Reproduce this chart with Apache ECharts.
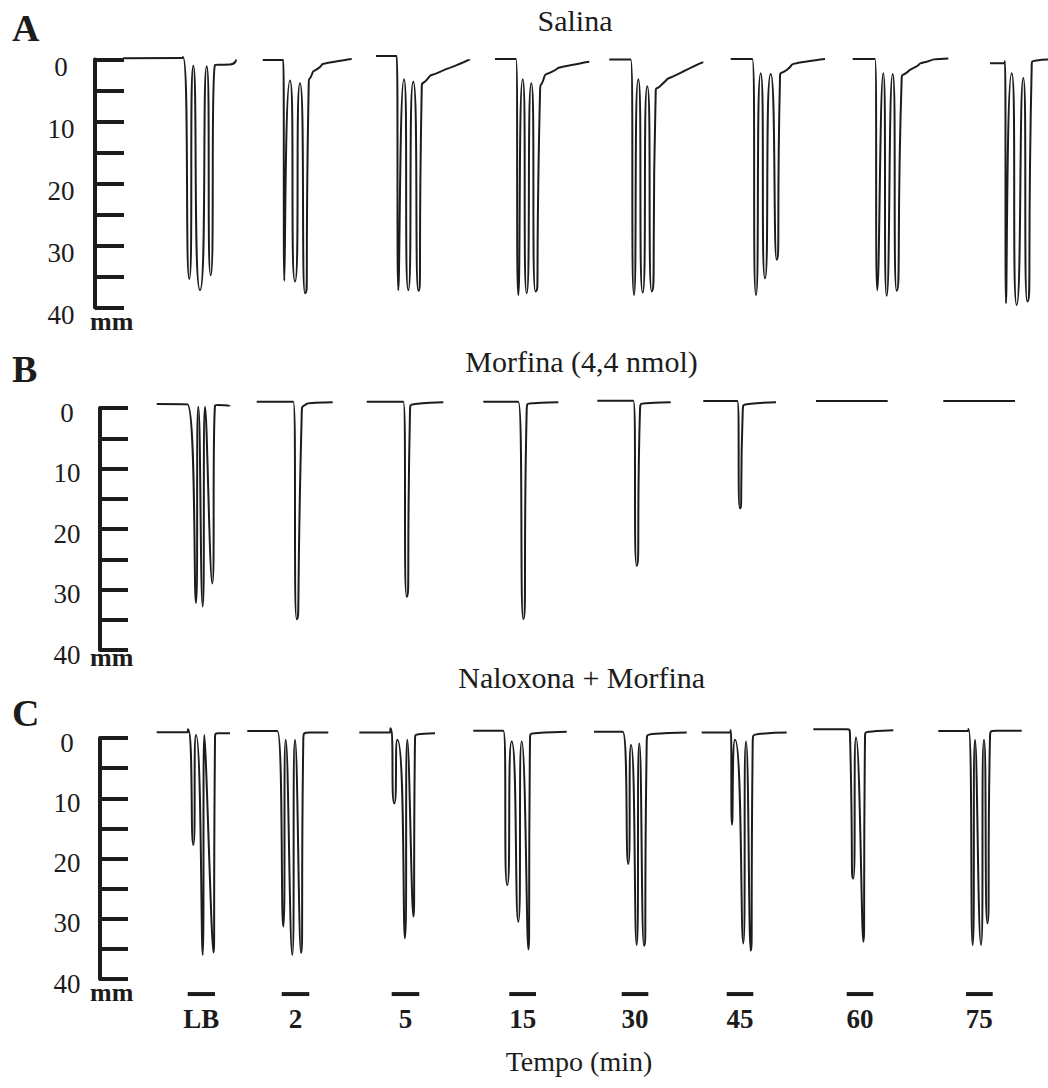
<!DOCTYPE html>
<html>
<head>
<meta charset="utf-8">
<title>Tail flick - Salina / Morfina / Naloxona + Morfina</title>
<script src="https://cdn.jsdelivr.net/npm/echarts@6/dist/echarts.min.js"></script>
<style>
html, body { margin: 0; padding: 0; background: #fff; }
#chart { width: 1048px; height: 1088px; }
</style>
</head>
<body>
<div id="chart"></div>
<script>
var SERIF = '"Liberation Serif","Times New Roman","DejaVu Serif",serif';
var INK = '#1c1c1c';

var panelLetters = ['A', 'B', 'C'];
var panelTitles = ['Salina', 'Morfina (4,4 nmol)', 'Naloxona + Morfina'];
var timeLabels = ['LB', '2', '5', '15', '30', '45', '60', '75'];
var timeBarStart = [87.7, 181.7, 291.7, 409.3, 521.7, 626.7, 746.7, 866];
var timeBarEnd = [115, 209.3, 319.3, 436, 548.3, 653.3, 773.3, 892.7];

// deflection records, [t, mm], one array per time point
var salina = [
	[[23,-0.2],[82,-0.25],[83,-0.4],[89.3,35.4],[93.3,1.0],[100,37.2],[106.7,1.1],[110.7,34.8],[115,0.9],[130,0.8],[136,0]],
	[[162.7,0.1],[183.3,0.1],[184.3,35.7],[190,3.4],[195,35.8],[200,3.85],[205,37.7],[208.7,4.1],[211.7,2.5],[216.7,1.6],[230,0.5],[251.7,-0.1]],
	[[276,-0.55],[296.7,-0.55],[298.3,37.2],[304,3.2],[308.3,37.2],[313.3,3.6],[318.3,37.3],[321.7,4.9],[326.7,3.3],[340,2.0],[356.7,0.9],[370,0]],
	[[395,-0.1],[416,-0.1],[418.3,38.0],[422.7,3.2],[426.7,37.7],[431.3,3.85],[435.5,37.4],[440,5.5],[443.3,3.3],[451.7,2.0],[466.7,1.05],[489.3,0.35]],
	[[509.3,0],[530.7,0],[534,38.0],[538.3,3.2],[542.7,37.6],[547.3,4.3],[551.7,37.4],[555.7,5.2],[560,4.3],[580,2.2],[603.3,0.45]],
	[[630.7,-0.1],[652.3,-0.1],[656,38.0],[660.7,2.2],[665,35.3],[670.7,2.35],[676.7,32.3],[680,3.0],[686.7,1.7],[700,0.5],[725,-0.1]],
	[[752.7,-0.1],[775,-0.1],[777.3,37.2],[783.3,2.2],[786.7,38.1],[792.7,2.35],[796.7,37.3],[801.7,2.9],[806,2.2],[813.3,1.4],[826.7,0.35],[840,-0.1],[848.3,-0.15]],
	[[890,0.6],[904,0.6],[905,0.3],[906,39.3],[911.7,2.2],[916.7,39.6],[923.3,3.0],[927.3,39.05],[931.7,1.05],[935,0.2],[948,0]]
];
var morfina = [
	[[56.7,-0.65],[87.5,-0.6],[96,32.2],[98.3,-0.2],[102.7,32.8],[105,-0.2],[112.3,29.0],[115,-0.4],[118,-0.5],[130,-0.3]],
	[[156.7,-1.05],[193.3,-1.05],[196.7,34.9],[201.7,1.15],[205,-0.5],[215,-0.85],[232.7,-0.95]],
	[[266.7,-1.05],[303.3,-1.05],[306.7,31.2],[310,0.6],[315,-0.65],[343.3,-0.95]],
	[[383.3,-1.05],[418.3,-1.05],[423.3,34.9],[426.7,0.3],[433.3,-0.8],[458.3,-0.95]],
	[[497.3,-1.2],[533.3,-1.2],[536.7,26.1],[540,0.3],[546.7,-0.8],[570.7,-0.95]],
	[[603.3,-1.15],[637.3,-1.15],[640,16.6],[642.7,0.6],[648.3,-0.65],[676,-0.95]],
	[[716,-1.15],[787.7,-1.15]],
	[[843.3,-1.15],[915,-1.15]]
];
var naloxona = [
	[[56.7,-0.95],[87.5,-0.95],[88,-1.45],[93.3,17.75],[96,-0.5],[102.7,36.0],[104.3,-0.5],[113.3,35.6],[115,0.3],[118.3,-0.8],[130,-0.8]],
	[[147.3,-1.15],[177.3,-1.15],[183.3,31.3],[185.7,0.3],[192.3,36.0],[195,0.3],[201,35.7],[203.3,0.3],[210,-0.9],[228.3,-0.9]],
	[[259.3,-0.9],[290,-0.9],[290.5,-1.6],[294.3,10.85],[297.3,0.3],[305,33.25],[307.3,0.3],[313.3,29.65],[315,0.3],[320,-0.65],[335,-0.8]],
	[[373.3,-1.2],[403.3,-1.2],[407.3,24.4],[411.7,0.6],[418.3,30.5],[421.7,0.6],[428.3,35.1],[430,0.3],[435,-0.8],[466.7,-1.05]],
	[[494,-1.05],[522.7,-1.05],[528.3,20.9],[531,1.15],[536.7,34.35],[539.3,0.9],[544,34.5],[546.7,0.9],[551.7,-0.65],[586.7,-0.9]],
	[[601.7,-0.9],[630.3,-0.9],[630.7,-1.3],[632,14.4],[635,0.3],[643.3,34.1],[646,0.6],[650.7,35.3],[652.7,0.9],[658.3,-0.65],[686.7,-0.9]],
	[[713.3,-1.45],[746.7,-1.45],[750,-0.5],[753.3,23.3],[756,-0.1],[763.3,33.8],[765,0],[770,-1.05],[793.3,-1.3]],
	[[838.3,-1.15],[868.3,-1.15],[868.5,-1.5],[872.7,34.35],[875,0.3],[881,34.35],[884,0.3],[887.3,30.75],[890,-0.2],[896.7,-1.2],[921.7,-1.2]]
];

var panels = [salina, morfina, naloxona];
var gridTops = [59.5, 408, 738];
var gridHeights = [248, 242, 241];

var chart = echarts.init(document.getElementById('chart'), null, {renderer: 'svg'});

var grids = [], xAxes = [], yAxes = [], series = [];
for (var p = 0; p < 3; p++) {
	grids.push({left: 100, right: 0, top: gridTops[p], height: gridHeights[p]});
	xAxes.push({gridIndex: p, type: 'value', min: 0, max: 948, show: false});
	yAxes.push({
		gridIndex: p, type: 'value', inverse: true, min: 0, max: 40, interval: 5,
		offset: p === 0 ? 5 : 0,
		axisLine: {show: true, onZero: false, lineStyle: {color: INK, width: 4}},
		axisTick: {show: true, inside: true, length: p === 0 ? 29 : 28, lineStyle: {color: INK, width: 4}},
		axisLabel: {
			showMinLabel: true, showMaxLabel: true,
			formatter: function(v){ return v % 10 === 0 ? String(v) : ''; },
			fontFamily: SERIF, fontSize: 27, color: INK,
			align: 'center', verticalAlign: 'top', lineHeight: p === 0 ? 14 : 9,
			margin: p === 0 ? 34 : 33
		},
		splitLine: {show: false}
	});
	panels[p].forEach(function(seg){
		series.push({
			type: 'line', xAxisIndex: p, yAxisIndex: p, data: seg,
			smooth: 1, symbol: 'none', clip: false, silent: true,
			lineStyle: {color: INK, width: 2}
		});
	});
}

// time markers under panel C
series.push({
	type: 'custom', xAxisIndex: 2, yAxisIndex: 2, clip: false, silent: true,
	data: timeBarStart.map(function(s, i){ return [s, timeBarEnd[i]]; }),
	encode: {x: [0, 1]},
	renderItem: function(params, api){
		var a = api.coord([api.value(0), 42.5]);
		var b = api.coord([api.value(1), 42.5]);
		return {type: 'group', children: [
			{type: 'rect', shape: {x: a[0], y: a[1] - 2, width: b[0] - a[0], height: 4}, style: {fill: INK}},
			{type: 'text', style: {
				text: timeLabels[params.dataIndex], x: (a[0] + b[0]) / 2, y: a[1] + 24.5,
				align: 'center', verticalAlign: 'middle', textAlign: 'center', textVerticalAlign: 'middle',
				font: 'bold 27px ' + SERIF, fill: INK
			}}
		]};
	}
});

function label(txt, x, y, font, align){
	return {type: 'text', x: x, y: y, silent: true, style: {
		text: txt, font: font, fill: INK,
		align: align, verticalAlign: 'middle', textAlign: align, textVerticalAlign: 'middle'
	}};
}

var letterY = [27.5, 369, 712.5];
var titleX = [575, 581.5, 581.7];
var titleY = [20, 361.7, 677];
var mmY = [321, 657, 992];
var graphics = [];
for (var k = 0; k < 3; k++) {
	graphics.push(label(panelLetters[k], 12, letterY[k], 'bold 38px ' + SERIF, 'left'));
	graphics.push(label(panelTitles[k], titleX[k], titleY[k], '30px ' + SERIF, 'center'));
	graphics.push(label('mm', 90, mmY[k], 'bold 26px ' + SERIF, 'left'));
}
graphics.push(label('Tempo (min)', 579, 1061, '28px ' + SERIF, 'center'));

chart.setOption({
	animation: false,
	backgroundColor: '#fff',
	grid: grids,
	xAxis: xAxes,
	yAxis: yAxes,
	series: series,
	graphic: graphics
});
</script>
</body>
</html>
